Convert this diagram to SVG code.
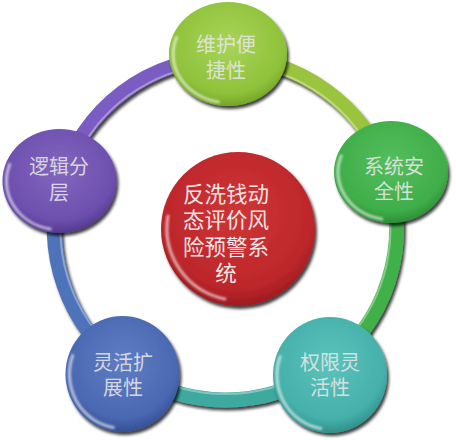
<svg xmlns="http://www.w3.org/2000/svg" width="456" height="440" viewBox="0 0 456 440">
<defs>
<style>
.seg{fill:none;stroke-width:15;stroke-linecap:butt}
.shine{fill:none;stroke:#ffffff;stroke-opacity:0.35;stroke-width:2}
.lbl{font-family:"Liberation Sans","Noto Sans CJK SC",sans-serif;font-size:20px;fill:#e6e6e6;fill-opacity:0.9;text-anchor:middle}
.clbl{font-family:"Liberation Sans","Noto Sans CJK SC",sans-serif;font-size:21.5px;fill:#f3e6e6;text-anchor:middle}
.hl{fill:none;stroke:#ffffff;stroke-opacity:0.6;stroke-width:3;stroke-linecap:round}
</style>
<filter id="sh" x="-20%" y="-20%" width="140%" height="140%">
<feDropShadow dx="2" dy="3" stdDeviation="1.5" flood-color="#000" flood-opacity="0.75"/>
</filter>
<filter id="blur" x="-20%" y="-20%" width="140%" height="140%"><feGaussianBlur stdDeviation="0.8"/></filter>
<radialGradient id="gTop" cx="50%" cy="40%" r="60%"><stop offset="0" stop-color="#a9d45a"/><stop offset="0.8" stop-color="#8fc23a"/><stop offset="1" stop-color="#74a526"/></radialGradient>
<radialGradient id="gRight" cx="50%" cy="40%" r="60%"><stop offset="0" stop-color="#55bd5e"/><stop offset="0.8" stop-color="#3fae49"/><stop offset="1" stop-color="#2d8f36"/></radialGradient>
<radialGradient id="gBR" cx="50%" cy="40%" r="60%"><stop offset="0" stop-color="#5cc3bc"/><stop offset="0.8" stop-color="#45b0aa"/><stop offset="1" stop-color="#30908b"/></radialGradient>
<radialGradient id="gBL" cx="50%" cy="40%" r="60%"><stop offset="0" stop-color="#5f7dc3"/><stop offset="0.8" stop-color="#4a68b2"/><stop offset="1" stop-color="#354f93"/></radialGradient>
<radialGradient id="gLeft" cx="50%" cy="40%" r="60%"><stop offset="0" stop-color="#8366bf"/><stop offset="0.8" stop-color="#6d4fae"/><stop offset="1" stop-color="#533990"/></radialGradient>
<radialGradient id="gC" cx="50%" cy="40%" r="60%"><stop offset="0" stop-color="#cf3436"/><stop offset="0.8" stop-color="#bd272b"/><stop offset="1" stop-color="#9c1b1f"/></radialGradient>
</defs>
<rect width="456" height="440" fill="#ffffff"/>

<g id="connectors" filter="url(#sh)">
<path class="seg" stroke="#9ac43c" d="M225.5,58 A171,171 0 0 1 387.2,173.3"/>
<path class="seg" stroke="#41b049" d="M387.2,173.3 A171,171 0 0 1 324.5,368.4"/>
<path class="seg" stroke="#3da99f" d="M324.5,368.4 A171,171 0 0 1 126.2,368.2"/>
<path class="seg" stroke="#4f73b9" d="M126.2,368.2 A171,171 0 0 1 61.1,181.9"/>
<path class="seg" stroke="#7a5cc2" d="M61.1,181.9 A171,171 0 0 1 225.5,58"/>
</g>
<g id="ring-shine">
<path class="shine" d="M225.5,64 A165,165 0 1 1 225.4,64"/>
</g>

<g id="node-center">
<circle cx="238" cy="229" r="77" fill="url(#gC)" filter="url(#sh)"/>
<path class="hl" filter="url(#blur)" d="M225,299 A72,72 0 0 1 168,216"/>
<text class="clbl" x="226" y="201.5">反洗钱动</text>
<text class="clbl" x="226" y="228">态评价风</text>
<text class="clbl" x="226" y="254.5">险预警系</text>
<text class="clbl" x="226" y="281">统</text>
</g>

<g id="node-top">
<ellipse cx="228" cy="54" rx="59" ry="52" fill="url(#gTop)" filter="url(#sh)"/>
<path class="hl" filter="url(#blur)" transform="translate(228,54)" d="M-9.5,48 A55,48.5 0 0 1 -51.5,-16.5"/>
<text class="lbl" x="226" y="52">维护便</text>
<text class="lbl" x="226" y="78">捷性</text>
</g>

<g id="node-right">
<ellipse cx="391" cy="172" rx="57" ry="51" fill="url(#gRight)" filter="url(#sh)"/>
<path class="hl" filter="url(#blur)" transform="translate(391,172)" d="M-9.2,47 A53,47.5 0 0 1 -49.8,-16.2"/>
<text class="lbl" x="394" y="174">系统安</text>
<text class="lbl" x="394" y="199">全性</text>
</g>

<g id="node-br">
<ellipse cx="330" cy="375" rx="57" ry="58" fill="url(#gBR)" filter="url(#sh)"/>
<path class="hl" filter="url(#blur)" transform="translate(330,375)" d="M-9.2,53.5 A53,54 0 0 1 -49.8,-18.4"/>
<text class="lbl" x="330" y="370">权限灵</text>
<text class="lbl" x="330" y="395">活性</text>
</g>

<g id="node-bl">
<ellipse cx="122.5" cy="374" rx="57" ry="58" fill="url(#gBL)" filter="url(#sh)"/>
<path class="hl" filter="url(#blur)" transform="translate(122.5,374)" d="M-9.2,53.5 A53,54 0 0 1 -49.8,-18.4"/>
<text class="lbl" x="123" y="370">灵活扩</text>
<text class="lbl" x="123" y="395">展性</text>
</g>

<g id="node-left">
<ellipse cx="59.5" cy="181" rx="57" ry="52" fill="url(#gLeft)" filter="url(#sh)"/>
<path class="hl" filter="url(#blur)" transform="translate(59.5,181)" d="M-9.2,48 A53,48.5 0 0 1 -49.8,-16.5"/>
<text class="lbl" x="59" y="174">逻辑分</text>
<text class="lbl" x="59" y="200">层</text>
</g>
</svg>
